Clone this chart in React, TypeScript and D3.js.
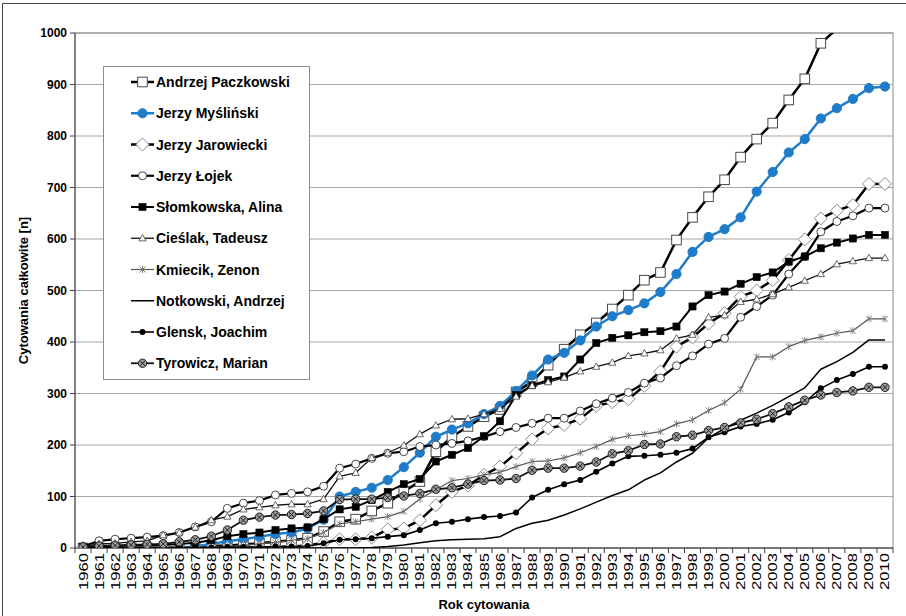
import React from 'react';
import * as d3 from 'd3';

const YEARS = [1960, 1961, 1962, 1963, 1964, 1965, 1966, 1967, 1968, 1969, 1970, 1971, 1972, 1973, 1974, 1975, 1976, 1977, 1978, 1979, 1980, 1981, 1982, 1983, 1984, 1985, 1986, 1987, 1988, 1989, 1990, 1991, 1992, 1993, 1994, 1995, 1996, 1997, 1998, 1999, 2000, 2001, 2002, 2003, 2004, 2005, 2006, 2007, 2008, 2009, 2010];
const Y_TICKS = [0, 100, 200, 300, 400, 500, 600, 700, 800, 900, 1000];

const SERIES_NAMES = [
  'Andrzej Paczkowski',
  'Jerzy Myśliński',
  'Jerzy Jarowiecki',
  'Jerzy Łojek',
  'Słomkowska, Alina',
  'Cieślak, Tadeusz',
  'Kmiecik, Zenon',
  'Notkowski, Andrzej',
  'Glensk, Joachim',
  'Tyrowicz, Marian',
];

const PACZKOWSKI = [0, 0, 0, 0, 0, 0, 1, 2, 4, 5, 7, 9, 12, 15, 19, 32, 51, 56, 72, 87, 110, 129, 187, 216, 236, 255, 269, 303, 323, 355, 386, 414, 437, 464, 491, 520, 535, 598, 642, 682, 715, 759, 794, 825, 870, 911, 980, 1008, 1040, 1065, 1080];
const MYSLINSKI = [0, 0, 0, 0, 0, 0, 0, 3, 8, 13, 17, 22, 27, 30, 38, 55, 100, 109, 117, 132, 157, 185, 216, 230, 242, 260, 276, 305, 335, 366, 379, 403, 430, 450, 462, 475, 497, 532, 575, 604, 619, 642, 692, 730, 768, 794, 834, 854, 872, 893, 896];
const JAROWIECKI = [0, 0, 0, 0, 0, 0, 0, 0, 0, 0, 0, 1, 2, 3, 5, 10, 17, 17, 20, 36, 38, 54, 83, 109, 121, 142, 158, 184, 211, 232, 239, 251, 276, 283, 289, 315, 343, 391, 409, 436, 456, 488, 500, 520, 559, 599, 640, 655, 666, 707, 707];
const LOJEK = [3, 14, 17, 19, 21, 24, 30, 41, 51, 77, 87, 92, 103, 106, 109, 120, 155, 163, 174, 184, 187, 197, 200, 203, 208, 216, 226, 234, 242, 252, 252, 266, 280, 291, 302, 320, 330, 354, 373, 396, 407, 448, 469, 491, 532, 566, 614, 634, 645, 660, 660];
const SLOMKOWSKA = [2, 3, 4, 5, 5, 6, 8, 10, 15, 23, 27, 30, 35, 38, 40, 56, 75, 80, 93, 109, 124, 134, 168, 181, 194, 217, 246, 297, 316, 326, 333, 366, 398, 408, 413, 419, 421, 430, 469, 491, 498, 513, 526, 535, 556, 566, 582, 593, 601, 608, 608];
const CIESLAK = [3, 8, 9, 12, 14, 25, 30, 40, 54, 61, 75, 79, 83, 85, 85, 95, 139, 146, 175, 185, 199, 221, 238, 250, 251, 260, 270, 294, 315, 322, 331, 343, 352, 360, 373, 378, 384, 407, 414, 448, 452, 478, 483, 493, 506, 519, 532, 551, 557, 563, 563];
const KMIECIK = [0, 0, 0, 0, 0, 0, 0, 1, 2, 3, 5, 8, 11, 15, 18, 30, 47, 51, 56, 61, 71, 95, 113, 131, 135, 142, 147, 158, 168, 169, 175, 185, 197, 211, 218, 221, 226, 241, 249, 267, 282, 308, 371, 371, 391, 403, 410, 417, 422, 445, 445];
const NOTKOWSKI = [0, 0, 0, 0, 0, 0, 0, 0, 0, 0, 0, 0, 0, 0, 0, 0, 0, 0, 1, 3, 6, 10, 14, 16, 17, 18, 22, 38, 48, 54, 64, 76, 89, 102, 113, 132, 146, 167, 184, 214, 232, 248, 262, 277, 294, 311, 347, 362, 380, 404, 404];
const GLENSK = [0, 0, 0, 0, 0, 0, 1, 1, 1, 2, 2, 2, 3, 3, 4, 9, 16, 17, 19, 22, 25, 35, 48, 51, 56, 60, 62, 69, 98, 113, 124, 132, 148, 164, 178, 179, 181, 185, 193, 215, 225, 236, 241, 249, 263, 283, 310, 326, 338, 352, 352];
const TYROWICZ = [2, 4, 5, 6, 7, 8, 12, 16, 23, 35, 54, 60, 64, 65, 67, 72, 94, 95, 95, 98, 101, 106, 114, 117, 124, 131, 132, 135, 151, 155, 155, 159, 167, 183, 189, 201, 202, 216, 219, 228, 234, 243, 250, 261, 274, 287, 297, 302, 305, 312, 312];

const X_TITLE = 'Rok cytowania';
const Y_TITLE = 'Cytowania całkowite [n]';

const BLUE = '#1f7cc9';

type MarkerKind = 'openSquare' | 'blueCircle' | 'diamond' | 'openCircle' | 'filledSquare' | 'triangle' | 'star' | 'none' | 'dot' | 'xcircle';

interface SeriesDef {
  name: string;
  values: number[];
  stroke: string;
  width: number;
  marker: MarkerKind;
}

const SERIES: SeriesDef[] = [
  { name: SERIES_NAMES[0], values: PACZKOWSKI, stroke: '#000', width: 2.5, marker: 'openSquare' },
  { name: SERIES_NAMES[1], values: MYSLINSKI, stroke: BLUE, width: 2.5, marker: 'blueCircle' },
  { name: SERIES_NAMES[2], values: JAROWIECKI, stroke: '#000', width: 2.5, marker: 'diamond' },
  { name: SERIES_NAMES[3], values: LOJEK, stroke: '#000', width: 2.2, marker: 'openCircle' },
  { name: SERIES_NAMES[4], values: SLOMKOWSKA, stroke: '#000', width: 2, marker: 'filledSquare' },
  { name: SERIES_NAMES[5], values: CIESLAK, stroke: '#111', width: 1.3, marker: 'triangle' },
  { name: SERIES_NAMES[6], values: KMIECIK, stroke: '#555', width: 1.2, marker: 'star' },
  { name: SERIES_NAMES[7], values: NOTKOWSKI, stroke: '#000', width: 1.5, marker: 'none' },
  { name: SERIES_NAMES[8], values: GLENSK, stroke: '#000', width: 1.6, marker: 'dot' },
  { name: SERIES_NAMES[9], values: TYROWICZ, stroke: '#111', width: 1.8, marker: 'xcircle' },
];

const W = 906;
const H = 616;
const PLOT = { left: 75, right: 893, top: 33, bottom: 548 };
const FONT = '"Liberation Sans", Arial, sans-serif';

function Marker({ kind, x, y, k }: { kind: MarkerKind; x: number; y: number; k?: string }) {
  switch (kind) {
    case 'openSquare':
      return <rect key={k} x={x - 4.8} y={y - 4.8} width={9.6} height={9.6} fill="#fff" stroke="#4a4a4a" strokeWidth={1} />;
    case 'blueCircle':
      return <circle key={k} cx={x} cy={y} r={4.6} fill={BLUE} stroke={BLUE} strokeWidth={1} />;
    case 'diamond':
      return <path key={k} d={`M${x},${y - 6.5}L${x + 6.5},${y}L${x},${y + 6.5}L${x - 6.5},${y}Z`} fill="#fff" stroke="#8a8a8a" strokeWidth={1} />;
    case 'openCircle':
      return <circle key={k} cx={x} cy={y} r={4} fill="#fff" stroke="#333" strokeWidth={0.9} />;
    case 'filledSquare':
      return <rect key={k} x={x - 3.6} y={y - 3.6} width={7.2} height={7.2} fill="#000" stroke="#000" strokeWidth={0.5} />;
    case 'triangle':
      return <path key={k} d={`M${x},${y - 3.8}L${x + 3.6},${y + 2.6}L${x - 3.6},${y + 2.6}Z`} fill="#fff" stroke="#444" strokeWidth={0.8} />;
    case 'star':
      return (
        <g key={k} stroke="#777" strokeWidth={0.9}>
          <line x1={x - 3} y1={y - 3} x2={x + 3} y2={y + 3} />
          <line x1={x - 3} y1={y + 3} x2={x + 3} y2={y - 3} />
          <line x1={x} y1={y - 3.5} x2={x} y2={y + 3.5} />
        </g>
      );
    case 'dot':
      return <circle key={k} cx={x} cy={y} r={3} fill="#000" />;
    case 'xcircle':
      return (
        <g key={k}>
          <circle cx={x} cy={y} r={4.2} fill="#9a9a9a" stroke="#222" strokeWidth={1} />
          <line x1={x - 2.6} y1={y - 2.6} x2={x + 2.6} y2={y + 2.6} stroke="#222" strokeWidth={1} />
          <line x1={x - 2.6} y1={y + 2.6} x2={x + 2.6} y2={y - 2.6} stroke="#222" strokeWidth={1} />
        </g>
      );
    default:
      return null;
  }
}

export default function App() {
  const x = d3.scaleBand<number>().domain(YEARS).range([PLOT.left, PLOT.right]).paddingInner(0).paddingOuter(0);
  const cx = (yr: number) => (x(yr) as number) + x.bandwidth() / 2;
  const y = d3.scaleLinear().domain([0, 1000]).range([PLOT.bottom, PLOT.top]);

  const line = d3
    .line<number>()
    .x((_, i) => cx(YEARS[i]))
    .y((d) => y(d));

  const legend = { x: 103.5, y: 66.5, w: 206, h: 313, first: 82, step: 31.25 };

  return (
    <svg
      width={W}
      height={H}
      style={{ position: 'absolute', left: 0, top: 0, background: '#fff' }}
      fontFamily={FONT}
    >
      <defs>
        <clipPath id="plotClip">
          <rect x={PLOT.left} y={PLOT.top} width={PLOT.right - PLOT.left} height={PLOT.bottom - PLOT.top} />
        </clipPath>
      </defs>
      <rect x={0} y={0} width={W} height={H} fill="#fff" />
      {/* outer chart border */}
      <line x1={2.5} y1={3.5} x2={W} y2={3.5} stroke="#444" strokeWidth={1} />
      <line x1={2.5} y1={3.5} x2={2.5} y2={H} stroke="#444" strokeWidth={1} />

      {/* gridlines */}
      {Y_TICKS.map((t) => (
        <line key={'g' + t} x1={PLOT.left} x2={PLOT.right} y1={y(t)} y2={y(t)} stroke="#a6a6a6" strokeWidth={1} />
      ))}
      {/* plot border */}
      <rect x={PLOT.left} y={PLOT.top} width={PLOT.right - PLOT.left} height={PLOT.bottom - PLOT.top} fill="none" stroke="#8c8c8c" strokeWidth={1} />

      {/* y axis */}
      <line x1={PLOT.left} x2={PLOT.left} y1={PLOT.top} y2={PLOT.bottom} stroke="#404040" strokeWidth={1} />
      {Y_TICKS.map((t) => (
        <g key={'yt' + t}>
          <line x1={PLOT.left - 5} x2={PLOT.left} y1={y(t)} y2={y(t)} stroke="#404040" strokeWidth={1} />
          <text x={PLOT.left - 8} y={y(t)} textAnchor="end" dominantBaseline="central" fontSize={12} fontWeight="bold" fill="#000">
            {t}
          </text>
        </g>
      ))}
      <text
        transform={`translate(23,${(PLOT.top + PLOT.bottom) / 2}) rotate(-90)`}
        textAnchor="middle"
        dominantBaseline="central"
        fontSize={13}
        fontWeight="bold"
        fill="#000"
      >
        {Y_TITLE}
      </text>

      {/* x axis */}
      <line x1={PLOT.left} x2={PLOT.right} y1={PLOT.bottom} y2={PLOT.bottom} stroke="#404040" strokeWidth={1} />
      {YEARS.map((yr) => (
        <line key={'xt' + yr} x1={x(yr) as number} x2={x(yr) as number} y1={PLOT.bottom} y2={PLOT.bottom + 5} stroke="#404040" strokeWidth={1} />
      ))}
      <line x1={PLOT.right} x2={PLOT.right} y1={PLOT.bottom} y2={PLOT.bottom + 5} stroke="#404040" strokeWidth={1} />
      {YEARS.map((yr) => (
        <text
          key={'xl' + yr}
          transform={`translate(${cx(yr)},${PLOT.bottom + 5}) rotate(-90)`}
          textAnchor="end"
          dominantBaseline="central"
          fontSize={13}
          textLength={37}
          lengthAdjust="spacingAndGlyphs"
          fill="#000"
        >
          {yr}
        </text>
      ))}
      <text x={(PLOT.left + PLOT.right) / 2} y={604} textAnchor="middle" dominantBaseline="central" fontSize={13} fontWeight="bold" fill="#000">
        {X_TITLE}
      </text>

      {/* series */}
      <g clipPath="url(#plotClip)">
        {SERIES.map((s, si) => (
          <g key={'s' + si}>
            <path d={line(s.values) || ''} fill="none" stroke={s.stroke} strokeWidth={s.width} strokeLinejoin="round" />
            {s.values.map((v, i) =>
              v <= 1000 ? <Marker key={'m' + si + '-' + i} k={'m' + si + '-' + i} kind={s.marker} x={cx(YEARS[i])} y={y(v)} /> : null
            )}
          </g>
        ))}
      </g>

      {/* legend */}
      <rect x={legend.x} y={legend.y} width={legend.w} height={legend.h} fill="#fff" stroke="#8c8c8c" strokeWidth={1} />
      {SERIES.map((s, i) => {
        const ly = legend.first + i * legend.step;
        return (
          <g key={'lg' + i}>
            <line x1={131} x2={154} y1={ly} y2={ly} stroke={s.stroke} strokeWidth={s.width} />
            <Marker kind={s.marker} x={142.5} y={ly} />
            <text x={156} y={ly} dominantBaseline="central" fontSize={14} fontWeight="bold" fill="#000">
              {s.name}
            </text>
          </g>
        );
      })}
    </svg>
  );
}
